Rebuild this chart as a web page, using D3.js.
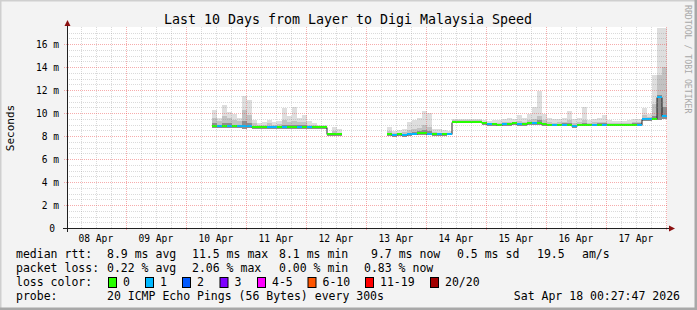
<!DOCTYPE html>
<html><head><meta charset="utf-8">
<script src="https://cdn.jsdelivr.net/npm/d3@7"></script>
<style>
body{margin:0;background:#fff}
svg{display:block}
text{font-family:"DejaVu Sans Mono",monospace}
</style>
</head><body>
<svg id="c" width="697" height="310"></svg>
<script>
// ---------------- data ----------------
const title = "Last 10 Days from Layer to Digi Malaysia Speed";
const dayLabels = ["08 Apr","09 Apr","10 Apr","11 Apr","12 Apr","13 Apr","14 Apr","15 Apr","16 Apr","17 Apr"];
const yTicks = [0,2,4,6,8,10,12,14,16];
const yTickLabels = ["0","2 m","4 m","6 m","8 m","10 m","12 m","14 m","16 m"];

// 2-hour samples from Apr 10 10:27:47 to Apr 18 00:27:47 (ms)
const median = [8.9,8.85,8.9,8.9,8.85,8.9,8.9,8.9,8.8,8.8,8.8,8.8,8.8,8.8,8.8,8.8,8.8,8.8,8.8,8.8,8.8,8.8,8.8,
  8.15,8.15,8.15,
  null,null,null,null,null,null,null,null,null,
  8.15,8.1,8.15,8.1,8.15,8.2,8.25,8.25,8.2,8.15,8.15,8.15,8.2,
  9.25,9.25,9.25,9.25,9.25,9.25,9.15,9.05,
  9.05,9.0,9.05,9.05,9.1,9.05,9.05,9.1,9.1,9.1,9.05,9.0,9.0,9.0,9.0,9.0,8.85,9.0,9.0,9.0,9.0,9.0,9.0,9.0,9.0,9.0,9.0,9.0,9.0,9.0,
  9.45,9.45,9.5,11.4,9.7];
const pingMax = [10.3,9.6,10.7,10.1,9.9,9.6,11.5,11.1,9.4,9.1,9.2,9.4,9.2,9.3,10.4,9.7,10.5,9.6,9.8,9.3,9.1,9.0,9.0,
  8.3,8.8,8.6,
  null,null,null,null,null,null,null,null,null,
  8.8,8.4,8.5,8.6,9.2,9.4,9.6,10.2,10.0,8.6,8.6,8.5,8.4,
  9.45,9.5,9.45,9.45,9.5,9.45,9.4,9.3,
  9.35,9.4,9.45,9.6,9.5,9.8,9.6,9.9,10.5,11.9,9.9,9.6,9.5,9.5,9.6,10.2,9.5,9.6,10.5,9.4,9.5,9.6,9.8,9.4,9.3,9.3,9.3,9.4,9.5,9.5,
  10.4,9.9,13.3,17.4,17.4];
const pingQ3 = [9.6,9.3,9.7,9.6,9.4,9.3,10.3,9.8,9.1,8.95,9.0,9.1,9.0,9.05,9.4,9.2,9.3,9.2,9.2,9.0,8.95,8.9,8.9,
  8.2,8.4,8.3,
  null,null,null,null,null,null,null,null,null,
  8.4,8.25,8.3,8.35,8.5,8.6,8.7,9.0,8.8,8.35,8.3,8.3,8.3,
  9.35,9.4,9.35,9.35,9.4,9.35,9.25,9.15,
  9.15,9.15,9.2,9.25,9.2,9.3,9.2,9.35,9.5,9.7,9.35,9.2,9.15,9.2,9.2,9.35,9.1,9.2,9.4,9.15,9.2,9.2,9.25,9.15,9.1,9.1,9.1,9.15,9.2,9.2,
  9.8,9.65,10.8,13.3,14.0];
const pingCore = [9.1,9.0,9.15,9.1,9.0,9.0,9.3,9.15,8.9,8.85,8.85,8.9,8.85,8.9,9.0,8.95,8.95,8.95,8.95,8.9,8.85,8.85,8.85,
  8.15,8.25,8.2,
  null,null,null,null,null,null,null,null,null,
  8.25,8.15,8.2,8.2,8.3,8.35,8.4,8.5,8.4,8.2,8.2,8.2,8.25,
  9.3,9.3,9.3,9.3,9.3,9.3,9.2,9.1,
  9.1,9.05,9.1,9.1,9.15,9.15,9.1,9.2,9.25,9.35,9.15,9.05,9.05,9.05,9.1,9.15,8.95,9.05,9.15,9.05,9.05,9.1,9.1,9.05,9.05,9.05,9.05,9.05,9.1,9.1,
  9.55,9.5,9.7,11.6,10.5];
const pingMin = [8.7,8.7,8.7,8.7,8.7,8.7,8.65,8.7,8.65,8.65,8.65,8.65,8.65,8.65,8.65,8.65,8.65,8.65,8.65,8.65,8.65,8.65,8.65,
  8.0,8.0,8.0,
  null,null,null,null,null,null,null,null,null,
  8.0,7.95,8.0,7.95,8.0,8.05,8.1,8.1,8.05,8.0,8.0,8.0,8.05,
  9.1,9.1,9.1,9.1,9.1,9.1,9.0,8.9,
  8.9,8.85,8.9,8.9,8.95,8.9,8.9,8.95,8.95,8.95,8.9,8.85,8.85,8.85,8.85,8.85,8.7,8.85,8.85,8.85,8.85,8.85,8.85,8.85,8.85,8.85,8.85,8.85,8.85,8.85,
  9.3,9.3,9.35,9.4,9.5];
// lost pings (out of 20) per sample
const lossCount = [0,1,0,1,0,1,1,1,0,0,0,1,1,0,1,0,0,1,0,1,0,0,0,
  0,0,0,
  null,null,null,null,null,null,null,null,null,
  0,1,0,1,1,1,0,0,1,0,1,0,1,
  0,0,0,0,0,0,0,1,
  0,0,1,0,0,1,0,0,1,0,0,0,1,0,1,0,1,0,0,0,1,0,1,0,0,0,0,0,0,1,
  1,1,0,1,1];

const lossLabels = ["0","1","2","3","4-5","6-10","11-19","20/20"];
const lossColors = ["#26ff00","#00b8ff","#0059ff","#7e00ff","#ff00ff","#ff5500","#ff0000","#a10000"];

const rttLegend = ["8.9 ms avg","11.5 ms max","8.1 ms min","9.7 ms now","0.5 ms sd","19.5","am/s"];
const lossLegend = ["0.22 % avg","2.06 % max","0.00 % min","0.83 % now"];
const probeText = "20 ICMP Echo Pings (56 Bytes) every 300s";
const stampText = "Sat Apr 18 00:27:47 2026";

// ---------------- layout ----------------
const svg = d3.select("#c");
const W = 697, H = 310;
const L = 67, R = 667, T = 27, B = 228;
const tStart = new Date(Date.UTC(2026,3,8,0,27,47));
const tEnd = new Date(Date.UTC(2026,3,18,0,27,47));
const sampleStart = Date.UTC(2026,3,10,10,27,47);
const stepMs = 2*3600*1000;

const x = d3.scaleUtc().domain([tStart,tEnd]).range([L,R]);
const y = d3.scaleLinear().domain([0,17.48]).range([B,T]);

// background + frame
svg.append("rect").attr("width",W).attr("height",H).attr("fill","#f3f3f3");
svg.append("path").attr("d",`M0,${H} V0 H${W}`).attr("fill","none").attr("stroke","#cfcfcf").attr("stroke-width",3);
svg.append("path").attr("d",`M0,${H-1} H${W-1} V0`).attr("fill","none").attr("stroke","#a8a8a8").attr("stroke-width",3);
svg.append("rect").attr("x",L).attr("y",T).attr("width",R-L).attr("height",B-T).attr("fill","#fff");

const plot = svg.append("g");
const sx = i => x(new Date(sampleStart + i*stepMs));

const idx = d3.range(median.length).filter(i => median[i] != null);

// smoke layers
function layer(lo, hi, color){
  plot.append("g").selectAll("rect").data(idx).join("rect")
    .attr("x", i => sx(i)).attr("width", i => sx(i+1)-sx(i))
    .attr("y", i => y(hi[i])).attr("height", i => Math.max(0, y(lo[i]) - y(hi[i])))
    .attr("fill", color).attr("shape-rendering","crispEdges");
}
layer(pingMin, pingMax, "#dedede");
layer(pingMin, pingQ3, "#c2c2c2");
layer(pingMin, pingCore, "#8e8e8e");

// median line (black, step)
const pts = [];
median.forEach((v,i)=>{
  pts.push({x:sx(i), v});
  if (v != null && (i+1>=median.length || median[i+1]==null)) pts.push({x:sx(i+1), v});
});
plot.append("path")
  .attr("d", d3.line().defined(d=>d.v!=null).x(d=>d.x).y(d=>Math.round(y(d.v))+0.5).curve(d3.curveStepAfter)(pts))
  .attr("fill","none").attr("stroke","#202020").attr("stroke-width",1);

// loss-coloured median bands
function lossIndex(n){ return n<=0?0:n===1?1:n===2?2:n===3?3:n<=5?4:n<=10?5:n<=19?6:7; }
plot.append("g").selectAll("rect").data(idx).join("rect")
  .attr("x", i => sx(i)).attr("width", i => sx(i+1)-sx(i))
  .attr("y", i => Math.round(y(median[i]))-1).attr("height", 2)
  .attr("fill", i => lossColors[lossIndex(lossCount[i])]).attr("shape-rendering","crispEdges");

// grid (on top, dotted)
const grid = svg.append("g").attr("shape-rendering","crispEdges");
const minorV = d3.utcHour.every(6).range(tStart,tEnd).filter(d=>d.getUTCHours()!==0);
const majorV = d3.utcDay.range(tStart,tEnd);
const minorH = d3.range(0.5,17.49,0.5).filter(v=>v%2!==0);
const majorH = yTicks.filter(v=>v>0);
const minC = "rgba(140,140,140,0.32)", majC = "rgba(235,70,70,0.45)";
grid.selectAll(".mv").data(minorV).join("line")
  .attr("x1",d=>Math.round(x(d))+0.5).attr("x2",d=>Math.round(x(d))+0.5).attr("y1",T).attr("y2",B)
  .attr("stroke",minC).attr("stroke-dasharray","1,1");
grid.selectAll(".mh").data(minorH).join("line")
  .attr("y1",d=>Math.round(y(d))+0.5).attr("y2",d=>Math.round(y(d))+0.5).attr("x1",L).attr("x2",R)
  .attr("stroke",minC).attr("stroke-dasharray","1,1");
grid.selectAll(".Mv").data(majorV).join("line")
  .attr("x1",d=>Math.round(x(d))+0.5).attr("x2",d=>Math.round(x(d))+0.5).attr("y1",T).attr("y2",B+3)
  .attr("stroke",majC).attr("stroke-dasharray","1,1");
grid.selectAll(".Mh").data(majorH).join("line")
  .attr("y1",d=>Math.round(y(d))+0.5).attr("y2",d=>Math.round(y(d))+0.5).attr("x1",L-3).attr("x2",R)
  .attr("stroke",majC).attr("stroke-dasharray","1,1");

// axes
const ax = svg.append("g");
ax.append("line").attr("x1",L+0.5).attr("x2",L+0.5).attr("y1",B+4).attr("y2",24).attr("stroke","#202020");
ax.append("line").attr("x1",L-4).attr("x2",670).attr("y1",B+0.5).attr("y2",B+0.5).attr("stroke","#202020");
ax.append("path").attr("d",`M${L+0.5},20 L${L+3.5},26 L${L-2.5},26 Z`).attr("fill","#8b1010");
ax.append("path").attr("d",`M675,${B+0.5} L669,${B-2.5} L669,${B+3.5} Z`).attr("fill","#8b1010");

// y tick labels
ax.selectAll(".yl").data(yTicks).join("text")
  .attr("x",(d,i)=> i===0 ? 55 : 59).attr("y",d=>y(d)+3.5)
  .attr("text-anchor","end").attr("font-size","9.6px").attr("fill","#000")
  .text((d,i)=>yTickLabels[i]);

// x tick labels at noon of each day
const noons = d3.utcDay.range(tStart,tEnd).map(d=>new Date(+d - 12*3600*1000));
ax.selectAll(".xl").data(dayLabels).join("text")
  .attr("x",(d,i)=>x(noons[i])).attr("y",B+14)
  .attr("text-anchor","middle").attr("font-size","9.6px").attr("fill","#000")
  .text(d=>d);

// title & labels
svg.append("text").attr("x",348).attr("y",23.5).attr("text-anchor","middle")
  .attr("font-size","13.3px").attr("fill","#000").text(title);
svg.append("text").attr("transform","translate(14,128) rotate(-90)").attr("text-anchor","middle")
  .attr("font-size","11px").attr("fill","#000").text("Seconds");
svg.append("text").attr("transform","translate(684.5,5) rotate(90)").attr("text-anchor","start")
  .attr("font-size","8.2px").attr("fill","#a8a8a8").text("RRDTOOL / TOBI OETIKER");

// legend
const lg = svg.append("g").attr("font-size","11.5px").attr("fill","#000");
const row = [258,272,286,300];
lg.append("text").attr("x",16).attr("y",row[0]).text("median rtt:");
const rttX = [107,192,279,371,457,537,582];
rttLegend.forEach((s,i)=>lg.append("text").attr("x",rttX[i]).attr("y",row[0]).text(s));
lg.append("text").attr("x",16).attr("y",row[1]).text("packet loss:");
const lossX = [107,192,279,364];
lossLegend.forEach((s,i)=>lg.append("text").attr("x",lossX[i]).attr("y",row[1]).text(s));
lg.append("text").attr("x",16).attr("y",row[2]).text("loss color:");
const boxX = [108,145,182,219.5,257,307.5,365,430];
lossLabels.forEach((s,i)=>{
  lg.append("rect").attr("x",boxX[i]+0.5).attr("y",277.5).attr("width",8).attr("height",10)
    .attr("fill",lossColors[i]).attr("stroke","#000").attr("stroke-width",1);
  lg.append("text").attr("x",boxX[i]+15).attr("y",row[2]).text(s);
});
lg.append("text").attr("x",16).attr("y",row[3]).text("probe:");
lg.append("text").attr("x",107).attr("y",row[3]).text(probeText);
lg.append("text").attr("x",680).attr("y",row[3]).attr("text-anchor","end").text(stampText);
</script>
</body></html>
